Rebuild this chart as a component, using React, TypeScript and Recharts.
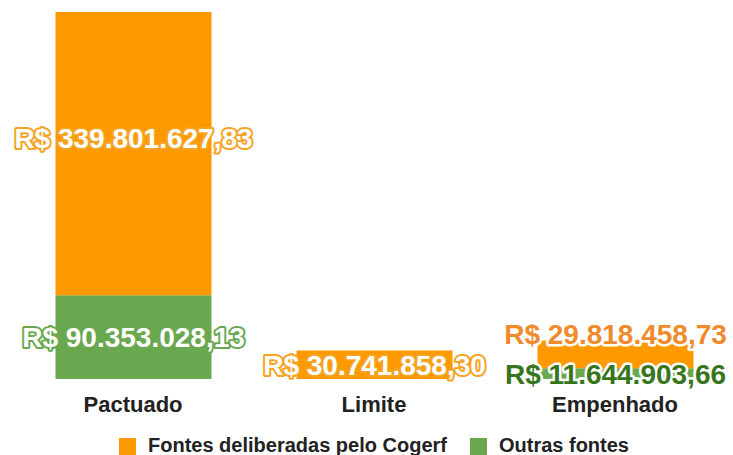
import { Bar, BarChart, LabelList, Legend, XAxis, YAxis } from "recharts";

const categories = ["Pactuado", "Limite", "Empenhado"];
const cogerfValues = [339801627.83, 30741858.3, 29818458.73];
const outrasValues = [90353028.13, 0, 11644903.66];
const seriesNames = ["Fontes deliberadas pelo Cogerf", "Outras fontes"];
const yMax = 396000000;

const ORANGE = "#ff9900";
const GREEN = "#6aa84f";

const data = categories.map((name, i) => ({
  name,
  cogerf: cogerfValues[i],
  outras: outrasValues[i],
}));

// "R$ 339.801.627,83"
function brl(v: number) {
  const [int, dec] = v.toFixed(2).split(".");
  return `R$ ${int.replace(/\B(?=(\d{3})+(?!\d))/g, ".")},${dec}`;
}

const FS = 28;
const TOP = 12;
const PLOT_H = 367;

function makeLabel(series: "cogerf" | "outras") {
  const values = series === "cogerf" ? cogerfValues : outrasValues;
  return (props: any) => {
    const box = props.viewBox && props.viewBox.width != null ? props.viewBox : props;
    const x = Number(box.x);
    const y = Number(box.y);
    const w = Number(box.width);
    const h = Number(box.height);
    const value = Number(props.value);
    if (!value) return null;
    const idx = values.indexOf(value);
    const cx = x + w / 2;
    // bar clipped at the top of the plot: centre on the full (unclipped) segment
    let mid = y + h / 2;
    if (y <= TOP + 0.5) mid = y + h - (value / yMax) * PLOT_H / 2;
    let fill = "#fff";
    let stroke = series === "cogerf" ? "#f6a323" : GREEN;
    let baseY = mid + FS * 0.36;
    let sw = 4;
    if (categories[idx] === "Empenhado") {
      fill = series === "cogerf" ? "#ef8a2d" : "#38761d";
      stroke = "#fff";
      sw = 5;
      if (series === "cogerf") baseY = y + 3.5;
    }
    return (
      <text
        x={cx}
        y={baseY}
        textAnchor="middle"
        fontSize={FS}
        fontWeight={700}
        fill={fill}
        stroke={stroke}
        strokeWidth={sw}
        strokeLinejoin="round"
        paintOrder="stroke"
      >
        {brl(value)}
      </text>
    );
  };
}

function LegendContent() {
  const colors = [ORANGE, GREEN];
  return (
    <div
      style={{
        display: "flex",
        justifyContent: "center",
        alignItems: "flex-start",
        height: 17,
        gap: 23,
      }}
    >
      {seriesNames.map((n, i) => (
        <div key={n} style={{ display: "flex", alignItems: "flex-start", height: 17 }}>
          <span
            style={{
              width: 17,
              height: 17,
              background: colors[i],
              display: "inline-block",
              marginRight: 12,
            }}
          />
          <span
            style={{
              fontSize: 20,
              fontWeight: 700,
              lineHeight: "15px",
              color: "#222",
              whiteSpace: "nowrap",
            }}
          >
            {n}
          </span>
        </div>
      ))}
    </div>
  );
}

export default function App() {
  return (
    <div
      style={{
        position: "absolute",
        left: 0,
        top: 0,
        width: 733,
        height: 455,
        overflow: "hidden",
        background: "#fff",
        fontFamily: '"Liberation Sans", Arial, sans-serif',
      }}
    >
      <BarChart
        width={745}
        height={455}
        data={data}
        margin={{ top: TOP, right: 9.5, left: 12.5, bottom: 0 }}
      >
        <XAxis
          dataKey="name"
          height={59}
          axisLine={false}
          tickLine={false}
          tickSize={0}
          tickMargin={17}
          tick={{ fontSize: 22, fontWeight: 700, fill: "#222" }}
        />
        <YAxis hide domain={[0, yMax]} allowDataOverflow />
        <Legend verticalAlign="bottom" content={<LegendContent />} />
        <Bar dataKey="outras" stackId="a" fill={GREEN} barSize={156} isAnimationActive={false}>
          <LabelList dataKey="outras" content={makeLabel("outras")} />
        </Bar>
        <Bar dataKey="cogerf" stackId="a" fill={ORANGE} barSize={156} isAnimationActive={false}>
          <LabelList dataKey="cogerf" content={makeLabel("cogerf")} />
        </Bar>
      </BarChart>
    </div>
  );
}
